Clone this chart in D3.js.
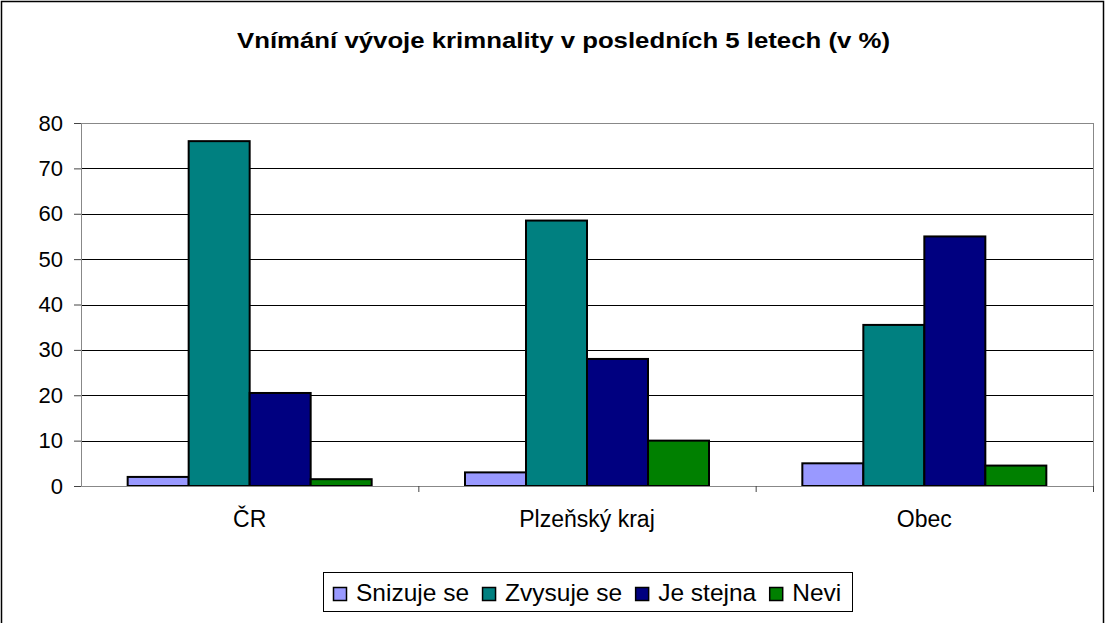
<!DOCTYPE html>
<html>
<head>
<meta charset="utf-8">
<script src="https://cdn.jsdelivr.net/npm/d3@7"></script>
<style>
  body { margin: 0; background: #fff; }
  text { font-family: "Liberation Sans", Arial, sans-serif; }
</style>
</head>
<body>
<div id="chart"></div>
<script>
const categories = ["ČR", "Plzeňský kraj", "Obec"];
const seriesNames = ["Snizuje se", "Zvysuje se", "Je stejna", "Nevi"];
const snizuje = [2, 3, 5];
const zvysuje = [76, 58.5, 35.5];
const stejna = [20.5, 28, 55];
const nevi = [1.5, 10, 4.5];
const yTicks = [0, 10, 20, 30, 40, 50, 60, 70, 80];
const colors = ["#9999ff", "#008080", "#000080", "#008000"];

const W = 1105, H = 623;
const margin = { top: 123, right: 12, bottom: 137, left: 81 };
const width = W - margin.left - margin.right;
const height = H - margin.top - margin.bottom;

const svg = d3.select("#chart").append("svg")
    .attr("width", W)
    .attr("height", H);

// outer frame
svg.append("rect")
    .attr("x", 1.5).attr("y", 1.5)
    .attr("width", W - 3).attr("height", H + 10)
    .attr("fill", "none").attr("stroke", "#000").attr("stroke-width", 1.5);

svg.append("text")
    .attr("x", 237).attr("y", 48)
    .attr("font-size", 22).attr("font-weight", "bold")
    .attr("textLength", 653).attr("lengthAdjust", "spacingAndGlyphs")
    .text("Vnímání vývoje krimnality v posledních 5 letech (v %)");

const g = svg.append("g").attr("transform", `translate(${margin.left},${margin.top})`);

const x0 = d3.scaleBand().domain(categories).range([0, width]).paddingInner(0).paddingOuter(0);
const x1 = d3.scaleBand().domain(seriesNames).range([0, 244]);
const y = d3.scaleLinear().domain([0, 80]).range([height, 0]);

const data = categories.map((c, i) => ({
    cat: c,
    values: [snizuje[i], zvysuje[i], stejna[i], nevi[i]]
}));

// gridlines
g.selectAll(".grid").data(yTicks.filter(t => t > 0))
    .enter().append("line")
    .attr("x1", 0).attr("x2", width)
    .attr("y1", d => Math.round(y(d)) + 0.5).attr("y2", d => Math.round(y(d)) + 0.5)
    .attr("stroke", d => d === 80 ? "#888" : "#000").attr("stroke-width", 1);

// right border of plot area
g.append("line")
    .attr("x1", width + 0.5).attr("x2", width + 0.5)
    .attr("y1", 0).attr("y2", height)
    .attr("stroke", "#888");

// bars
const groups = g.selectAll(".grp").data(data).enter().append("g")
    .attr("transform", d => `translate(${x0(d.cat) + (x0.bandwidth() - 244) / 2},0)`);

groups.selectAll("rect")
    .data(d => d.values.map((v, k) => ({ name: seriesNames[k], value: v, k: k })))
    .enter().append("rect")
    .attr("x", d => x1(d.name))
    .attr("y", d => y(d.value))
    .attr("width", x1.bandwidth())
    .attr("height", d => height - y(d.value))
    .attr("fill", d => colors[d.k])
    .attr("stroke", "#000").attr("stroke-width", 2);

// y axis
const yAxis = g.append("g")
    .call(d3.axisLeft(y).tickValues(yTicks).tickSize(7).tickPadding(11));
yAxis.select(".domain").attr("stroke", "#888");
yAxis.selectAll(".tick line").attr("stroke", "#444");
yAxis.selectAll("text").attr("font-size", 22).attr("fill", "#000")
    .attr("font-family", "Liberation Sans, Arial, sans-serif");

// x axis
const xAxis = g.append("g")
    .attr("transform", `translate(0,${height})`)
    .call(d3.axisBottom(x0).tickSize(0).tickPadding(0));
xAxis.select(".domain").attr("stroke", "#888");
xAxis.selectAll("text").attr("font-size", 23).attr("fill", "#000")
    .attr("dy", null).attr("y", 41)
    .attr("font-family", "Liberation Sans, Arial, sans-serif");
g.selectAll(".xsep").data(categories.slice(1).map(c => x0(c)).concat([width]))
    .enter().append("line")
    .attr("x1", d => d + 0.5).attr("x2", d => d + 0.5)
    .attr("y1", height).attr("y2", height + 6)
    .attr("stroke", "#444");

// legend
const legend = svg.append("g").attr("transform", "translate(323,572)");
legend.append("rect")
    .attr("x", 0.5).attr("y", 0.5)
    .attr("width", 529).attr("height", 39)
    .attr("fill", "#fff").attr("stroke", "#000");

let lx = 10;
seriesNames.forEach((name, i) => {
    const item = legend.append("g").attr("transform", `translate(${lx},0)`);
    item.append("rect")
        .attr("x", 0.5).attr("y", 15.5)
        .attr("width", 13).attr("height", 13)
        .attr("fill", colors[i])
        .attr("stroke", "#000").attr("stroke-width", 1.5);
    const t = item.append("text")
        .attr("x", 23).attr("y", 29)
        .attr("font-size", 24.5)
        .text(name);
    lx += 23 + t.node().getComputedTextLength() + 13;
});
</script>
</body>
</html>
